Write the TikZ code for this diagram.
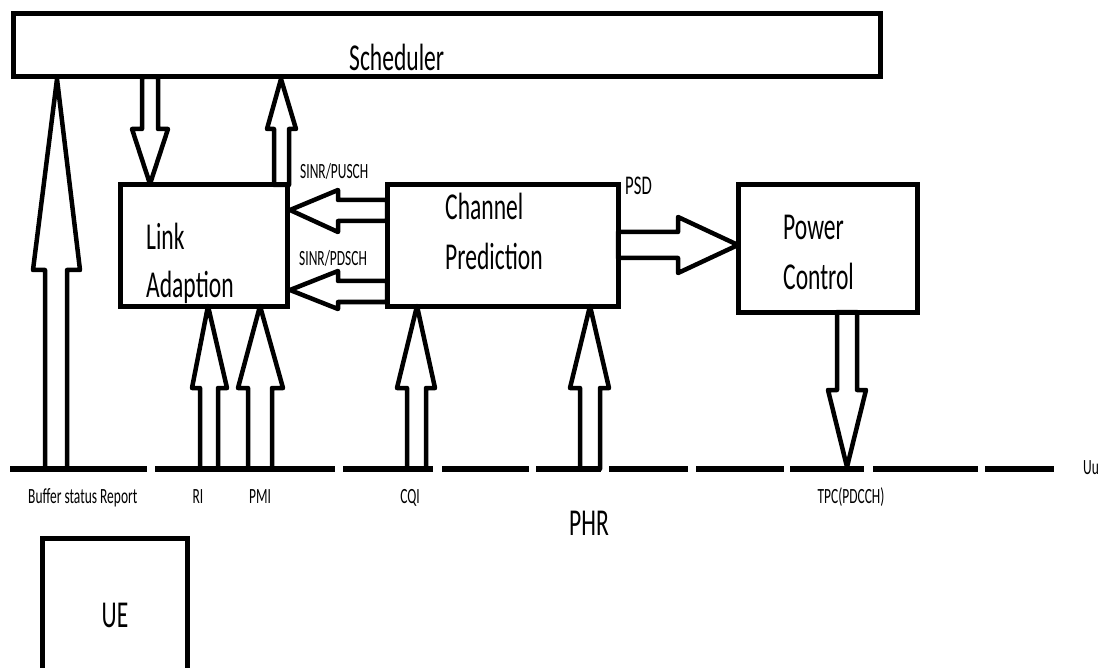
\documentclass[tikz,border=0pt]{standalone}
\usepackage{fontspec}
\setmainfont{Carlito}
\newcommand{\sq}[1]{\scalebox{0.62}[1]{#1}}
\tikzset{
  box/.style={draw, line width=5pt, inner sep=0pt, outer sep=0pt, rectangle},
  blk/.style={draw, fill=white, line width=4.5pt, line join=round},
  uuline/.style={line width=6pt},
  bigtxt/.style={font=\fontsize{38}{40}\selectfont, inner sep=0pt},
  smalltxt/.style={font=\fontsize{21.7}{24}\selectfont, inner sep=0pt},
  psdtxt/.style={font=\fontsize{27}{29}\selectfont, inner sep=0pt},
}
\begin{document}
\begin{tikzpicture}[x=1pt,y=-1pt]
\useasboundingbox (0,0) rectangle (1100,668);
\clip (0,0) rectangle (1100,668);

% block arrows (drawn first, boxes on top)
\draw[blk] (57,79) -- (80,270) -- (67,270) -- (67,469) -- (45,469) -- (45,270) -- (33,270) -- cycle;
\draw[blk] (142,77) -- (158,77) -- (158,129) -- (168,129) -- (150,184) -- (132,129) -- (142,129) -- cycle;
\draw[blk] (281,79) -- (296,129) -- (289,129) -- (289,185) -- (274,185) -- (274,129) -- (267,129) -- cycle;
\draw[blk] (290,210) -- (338,190) -- (338,200) -- (387,200) -- (387,221) -- (338,221) -- (338,232) -- cycle;
\draw[blk] (290,290) -- (338,271) -- (338,281) -- (387,281) -- (387,302) -- (338,302) -- (338,309) -- cycle;
\draw[blk] (738,245) -- (678,217) -- (678,232) -- (618,232) -- (618,258) -- (678,258) -- (678,273) -- cycle;
\draw[blk] (837,312) -- (857,312) -- (857,390) -- (866,390) -- (847,467) -- (828,390) -- (837,390) -- cycle;
\draw[blk] (208,306) -- (227,388) -- (218,388) -- (218,469) -- (200,469) -- (200,388) -- (192,388) -- cycle;
\draw[blk] (260,306) -- (283,388) -- (272,388) -- (272,469) -- (248,469) -- (248,388) -- (238,388) -- cycle;
\draw[blk] (417,306) -- (435,388) -- (426,388) -- (426,469) -- (407,469) -- (407,388) -- (397,388) -- cycle;
\draw[blk] (590,306) -- (609,388) -- (600,388) -- (600,469) -- (580,469) -- (580,388) -- (570,388) -- cycle;

% boxes
\node[box, minimum width=867pt, minimum height=63pt] (sched) at (446.5,45.5) {};
\node[box, minimum width=167pt, minimum height=121pt] (la) at (203.5,245.5) {};
\node[box, minimum width=231pt, minimum height=121pt] (cp) at (502.5,245.5) {};
\node[box, minimum width=179pt, minimum height=127pt] (pc) at (827.5,248.5) {};
\node[box, minimum width=145pt, minimum height=162pt] (ue) at (114.5,619) {};

% Uu dashed line
\foreach \a/\b in {10/147,155/335,343/433,442/529,536/601,609/688,696/784,790/864,873/978,985/1054}
  \draw[uuline] (\a,469) -- (\b,469);

% texts
\node[bigtxt, anchor=base west] (tsched) at (349,71) {\sq{Scheduler}};
\node[bigtxt, anchor=base west] (tla1) at (146,250) {\sq{Link}};
\node[bigtxt, anchor=base west] (tla2) at (146,298) {\sq{Adaption}};
\node[bigtxt, anchor=base west] (tcp1) at (445,220) {\sq{Channel}};
\node[bigtxt, anchor=base west] (tcp2) at (445,270) {\sq{Prediction}};
\node[bigtxt, anchor=base west] (tpc1) at (783,240) {\sq{Power}};
\node[bigtxt, anchor=base west] (tpc2) at (783,290) {\sq{Control}};
\node[bigtxt, anchor=base] (tue) at (115,627) {\sq{UE}};
\node[bigtxt, anchor=base] (tphr) at (589,535) {\sq{PHR}};
\node[psdtxt, anchor=base west] (tpsd) at (625,195) {\sq{PSD}};
\node[smalltxt, anchor=base west] (tpusch) at (300,179) {\sq{SINR/PUSCH}};
\node[smalltxt, anchor=base west] (tpdsch) at (299,266) {\sq{SINR/PDSCH}};
\node[smalltxt, anchor=base west] (tbsr) at (28,503) {\sq{Buffer status Report}};
\node[smalltxt, anchor=base] (tri) at (198,503) {\sq{RI}};
\node[smalltxt, anchor=base] (tpmi) at (260,503) {\sq{PMI}};
\node[smalltxt, anchor=base] (tcqi) at (410,503) {\sq{CQI}};
\node[smalltxt, anchor=base] (ttpc) at (851,503) {\sq{TPC(PDCCH)}};
\node[smalltxt, anchor=base west] (tuu) at (1083,474) {\sq{Uu}};
\end{tikzpicture}
\end{document}
